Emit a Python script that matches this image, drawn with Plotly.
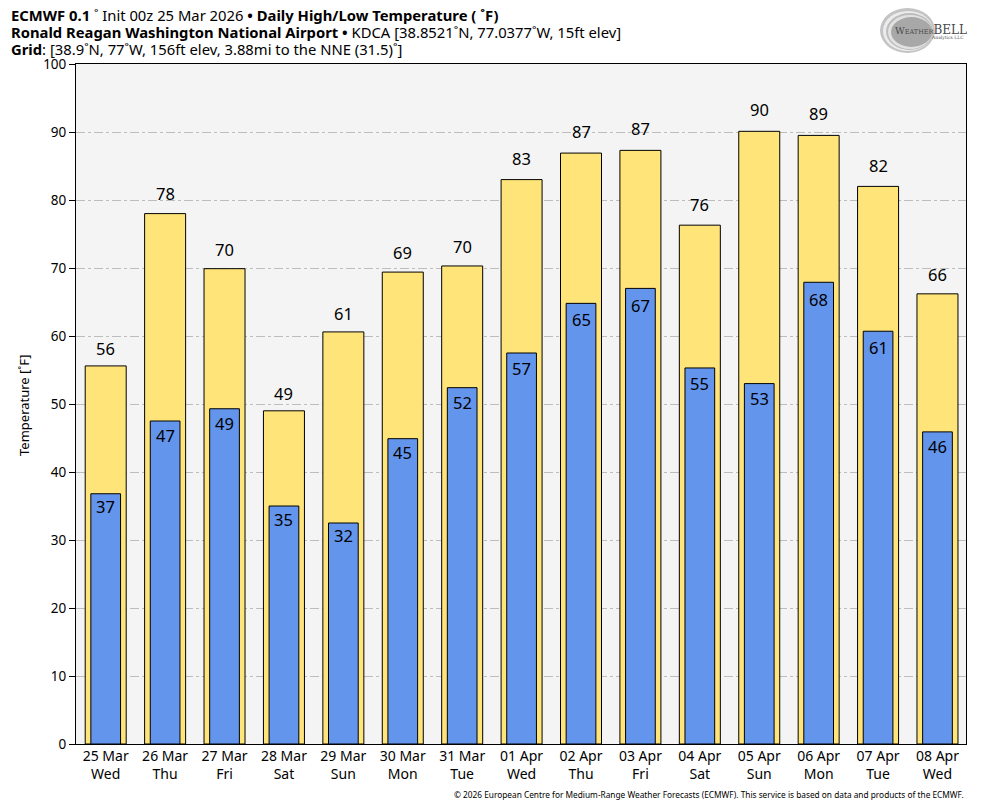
import plotly.graph_objects as go

days = ["25 Mar<br>Wed","26 Mar<br>Thu","27 Mar<br>Fri","28 Mar<br>Sat","29 Mar<br>Sun","30 Mar<br>Mon","31 Mar<br>Tue","01 Apr<br>Wed","02 Apr<br>Thu","03 Apr<br>Fri","04 Apr<br>Sat","05 Apr<br>Sun","06 Apr<br>Mon","07 Apr<br>Tue","08 Apr<br>Wed"]
highs = [55.6,78.0,69.9,49.0,60.6,69.4,70.3,83.0,86.9,87.3,76.3,90.1,89.5,82.0,66.2]
lows = [36.8,47.5,49.3,35.0,32.5,44.9,52.4,57.5,64.8,67.0,55.3,53.0,67.9,60.7,45.9]
high_labels = [56,78,70,49,61,69,70,83,87,87,76,90,89,82,66]
low_labels = [37,47,49,35,32,45,52,57,65,67,55,53,68,61,46]
y_ticks = list(range(0,101,10))
title_lines = [
    "<b>ECMWF 0.1</b> ˚ Init 00z 25 Mar 2026 <b>•</b> <b>Daily High/Low Temperature ( ˚F)</b>",
    "<b>Ronald Reagan Washington National Airport</b> <b>•</b> KDCA [38.8521˚N, 77.0377˚W, 15ft elev]",
    "<b>Grid</b>: [38.9˚N, 77˚W, 156ft elev, 3.88mi to the NNE (31.5)˚]",
]
title_y = [15, 32, 49]

FONT = "Noto Sans"
W, H = 984, 808
L, R, T, B = 76, 966, 64, 744

def px(x): return (x-L)/(R-L)
def py(y): return (B-y)/(B-T)

fig = go.Figure()
xs = list(range(len(days)))
fig.add_trace(go.Bar(x=xs, y=highs, width=0.69, marker=dict(color="#FFE47A", line=dict(color="black", width=1))))
fig.add_trace(go.Bar(x=xs, y=lows, width=0.5, marker=dict(color="#6495ED", line=dict(color="black", width=1))))

anns = []
for x, y, t in zip(xs, highs, high_labels):
    anns.append(dict(x=x, y=y, xref="x", yref="y", text=str(t), showarrow=False, yanchor="middle", yshift=11.5+0.115*y,
                     font=dict(family=FONT, size=16.5, color="black")))
for x, y, t in zip(xs, lows, low_labels):
    anns.append(dict(x=x, y=y, xref="x", yref="y", text=str(t), showarrow=False, yanchor="middle", yshift=-(9+0.115*y),
                     font=dict(family=FONT, size=16.5, color="black")))
for line, yy in zip(title_lines, title_y):
    anns.append(dict(x=px(10), y=py(yy), xref="paper", yref="paper", text=line, showarrow=False,
                     xanchor="left", yanchor="middle", align="left", xshift=-1,
                     font=dict(family=FONT, size=14.8, color="black")))
anns += [
    dict(x=px(966), y=py(794), xref="paper", yref="paper",
         text="© 2026 European Centre for Medium-Range Weather Forecasts (ECMWF). This service is based on data and products of the ECMWF.",
         showarrow=False, xanchor="right", yanchor="middle", font=dict(family=FONT, size=8.3, color="black")),
    dict(x=px(24), y=py(405), xref="paper", yref="paper", text="Temperature [˚F]", textangle=-90, showarrow=False,
         xanchor="center", yanchor="middle", font=dict(family=FONT, size=13, color="black")),
    dict(x=px(931), y=py(30), xref="paper", yref="paper",
         text="W<span style='font-size:6.5px'>EATHER</span><span style='font-size:12px'>BELL</span>", showarrow=False,
         xanchor="center", yanchor="middle", font=dict(family="DejaVu Serif", size=9.5, color="#4a4a4a")),
    dict(x=px(966), y=py(38), xref="paper", yref="paper", text="Analytics LLC", showarrow=False,
         xanchor="right", yanchor="middle", font=dict(family="DejaVu Serif", size=4.5, color="#555555")),
]

def ell(x0, x1, y0, y1, fill):
    return dict(type="circle", xref="paper", yref="paper", layer="below", x0=px(x0), x1=px(x1), y0=py(y1), y1=py(y0),
                fillcolor=fill, line=dict(color="rgba(0,0,0,0)", width=0))
shapes = [
    ell(880, 935, 8, 53, "#c4c4c4"),
    ell(883, 933, 11, 51, "#ececec"),
    ell(886, 933, 13, 50, "#bdbdbd"),
    ell(888, 932, 15, 49, "#e2e2e2"),
    ell(891, 932, 17, 47, "#a8a8a8"),
]

fig.update_layout(
    width=W, height=H, autosize=False, showlegend=False, barmode="overlay",
    paper_bgcolor="white", plot_bgcolor="#F4F4F4",
    margin=dict(l=L, r=W-R, t=T, b=H-B, autoexpand=False, pad=0),
    font=dict(family=FONT, size=12, color="black"),
    annotations=anns, shapes=shapes,
    xaxis=dict(range=[-0.5,14.48], tickmode="array", tickvals=xs, ticktext=days, ticks="", ticklabelstandoff=-1,
               showgrid=False, showline=True, linecolor="black", linewidth=1, mirror=True,
               tickfont=dict(family=FONT, size=14), zeroline=False),
    yaxis=dict(range=[0,100], tickmode="array", tickvals=y_ticks, ticks="outside", ticklen=6, tickcolor="black",
               showgrid=True, gridcolor="#BDBDBD", griddash="dashdot", gridwidth=1,
               showline=True, linecolor="black", linewidth=1, mirror=True,
               tickfont=dict(family=FONT, size=13.5), zeroline=False),
)
fig.write_html("out.html", config=dict(displayModeBar=False),
               post_script="document.body.style.margin='0';document.documentElement.style.overflow='hidden';")
